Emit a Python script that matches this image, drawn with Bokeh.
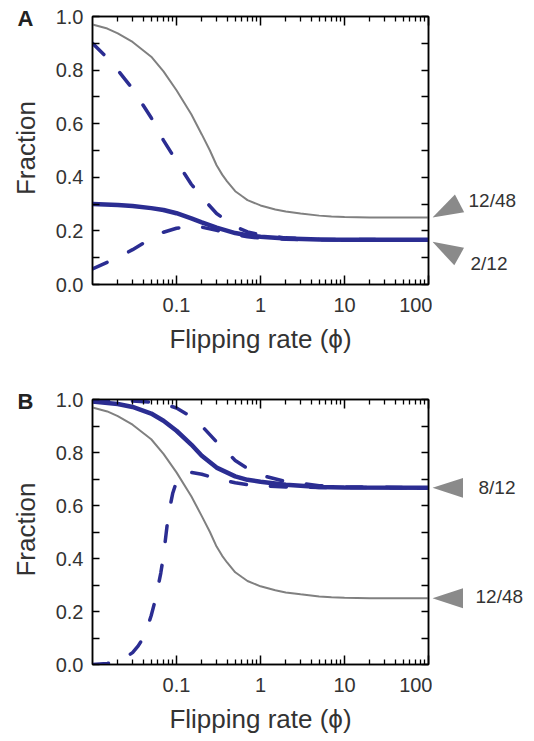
import math
from bokeh.plotting import figure
from bokeh.models import (Range1d, FixedTicker, LogAxis, LinearAxis,
                          PrintfTickFormatter, CustomJSTickFormatter)
from bokeh.core.properties import value
from bokeh.layouts import column, row
from bokeh.embed import file_html
from bokeh.resources import INLINE

# ---------------- data ----------------
grey_x = [0.01, 0.015, 0.02, 0.03, 0.05, 0.07, 0.1, 0.15, 0.2, 0.25, 0.3, 0.35, 0.4, 0.5, 0.6,
          0.7, 1, 1.5, 2, 3, 5, 7, 10, 20, 50, 100]
grey_y = [0.97, 0.955, 0.937, 0.905, 0.85, 0.795, 0.725, 0.635, 0.56, 0.50, 0.445, 0.41, 0.385,
          0.348, 0.33, 0.315, 0.295, 0.28, 0.272, 0.265, 0.257, 0.254, 0.252, 0.25, 0.25, 0.25]

a_solid_x = [0.01, 0.02, 0.03, 0.05, 0.07, 0.1, 0.15, 0.2, 0.3, 0.5, 0.7, 1, 2, 5, 10, 100]
a_solid_y = [0.30, 0.297, 0.293, 0.285, 0.278, 0.266, 0.247, 0.232, 0.212, 0.192, 0.184, 0.178,
             0.172, 0.168, 0.167, 0.167]

a_dash_hi_x = [0.01, 0.015, 0.02, 0.03, 0.05, 0.07, 0.1, 0.15, 0.2, 0.3, 0.5, 0.7, 1, 2, 5, 10, 100]
a_dash_hi_y = [0.90, 0.845, 0.80, 0.73, 0.622, 0.538, 0.46, 0.374, 0.326, 0.265, 0.216, 0.196,
               0.185, 0.174, 0.169, 0.168, 0.167]

a_dash_lo_x = [0.01, 0.015, 0.02, 0.03, 0.05, 0.07, 0.1, 0.15, 0.2, 0.3, 0.5, 0.7, 1, 2, 5, 10, 100]
a_dash_lo_y = [0.058, 0.083, 0.10, 0.13, 0.172, 0.195, 0.21, 0.217, 0.214, 0.202, 0.187, 0.178,
               0.173, 0.169, 0.167, 0.167, 0.167]

b_solid_x = [0.01, 0.02, 0.03, 0.05, 0.07, 0.1, 0.15, 0.2, 0.3, 0.5, 0.7, 1, 2, 5, 10, 100]
b_solid_y = [0.992, 0.983, 0.972, 0.947, 0.92, 0.882, 0.83, 0.788, 0.743, 0.71, 0.697, 0.69,
             0.678, 0.67, 0.668, 0.667]

b_dash_hi_x = [0.01, 0.02, 0.03, 0.05, 0.07, 0.1, 0.15, 0.2, 0.3, 0.5, 0.7, 1, 2, 5, 10, 100]
b_dash_hi_y = [0.998, 0.996, 0.994, 0.99, 0.984, 0.968, 0.935, 0.90, 0.84, 0.77, 0.74, 0.715,
               0.69, 0.675, 0.67, 0.667]

b_dash_lo_x = [0.01, 0.015, 0.02, 0.025, 0.03, 0.035, 0.04, 0.045, 0.05, 0.055, 0.06, 0.065,
               0.07, 0.075, 0.08, 0.09, 0.1, 0.12, 0.15, 0.2, 0.3, 0.5, 0.7, 1, 2, 5, 100]
b_dash_lo_y = [0.0, 0.004, 0.012, 0.028, 0.045, 0.07, 0.10, 0.14, 0.185, 0.235, 0.29, 0.345,
               0.41, 0.49, 0.565, 0.645, 0.69, 0.718, 0.725, 0.718, 0.702, 0.686, 0.679, 0.675,
               0.67, 0.668, 0.667]

a_mark_values = [12 / 48, 2 / 12]
a_mark_texts = ["12/48", "2/12"]
b_mark_values = [8 / 12, 12 / 48]
b_mark_texts = ["8/12", "12/48"]

x_major = [0.1, 1, 10, 100]
x_minor = [m * 10.0 ** e for e in range(-2, 2) for m in range(2, 10)]
y_major = [0.0, 0.2, 0.4, 0.6, 0.8, 1.0]
y_minor = [0.1, 0.3, 0.5, 0.7, 0.9]

# ---------------- style / layout ----------------
BLUE = "#2b2d92"
GREY = "#808080"
ARROW = "#8a8a8a"
TXT = "#333333"
FONT = "Liberation Sans"
LEFT_W = 50      # strip holding the panel letter and the y title
MAIN_W = 382     # main plot (y tick labels + frame + right axis)
RIGHT_W = 102    # strip holding the arrow heads and their labels
FRAME_W = 336
MAIN_BORDER_L = MAIN_W - FRAME_W - 4
MAIN_BORDER_R = 4


def side_fig(width, height, x0, x1, top, bottom):
    f = figure(width=width, height=height,
               x_range=Range1d(x0, x1), y_range=Range1d(0, 1),
               output_backend="svg", toolbar_location=None,
               x_axis_location=None, y_axis_location=None,
               min_border_left=0, min_border_right=0,
               min_border_top=top, min_border_bottom=bottom)
    f.outline_line_color = None
    f.grid.visible = False
    return f


def make_panel(height, top, bottom, frame_h, letter, series, marks):
    p = figure(width=MAIN_W, height=height, x_axis_type="log",
               x_range=Range1d(0.01, 100), y_range=Range1d(0, 1),
               output_backend="svg", toolbar_location=None,
               min_border_left=MAIN_BORDER_L, min_border_right=MAIN_BORDER_R,
               min_border_top=top, min_border_bottom=bottom)
    p.grid.visible = False
    p.outline_line_color = "black"
    p.outline_line_width = 1.5
    p.add_layout(LogAxis(), "above")
    p.add_layout(LinearAxis(), "right")

    for ax in p.xaxis:
        ax.ticker = FixedTicker(ticks=x_major, minor_ticks=x_minor)
        ax.major_tick_in = 9
        ax.major_tick_out = 0
        ax.minor_tick_in = 5
        ax.minor_tick_out = 0
    for ax in p.yaxis:
        ax.ticker = FixedTicker(ticks=y_major, minor_ticks=y_minor)
        ax.major_tick_in = 7
        ax.major_tick_out = 0
        ax.minor_tick_in = 7
        ax.minor_tick_out = 0
    for ax in list(p.xaxis) + list(p.yaxis):
        ax.axis_line_width = 1.5
        ax.major_tick_line_width = 1.5
        ax.minor_tick_line_width = 1.3
        ax.axis_line_color = "black"
        ax.major_tick_line_color = "black"
        ax.minor_tick_line_color = "black"
        ax.major_label_text_font = FONT
        ax.major_label_text_font_size = "20px"
        ax.major_label_text_color = TXT
        ax.axis_label_text_font = FONT
        ax.axis_label_text_font_size = "26px"
        ax.axis_label_text_font_style = "normal"
        ax.axis_label_text_color = TXT

    for ax in (p.above[0], p.right[0]):
        ax.formatter = CustomJSTickFormatter(code="return ''")
        ax.major_label_text_font_size = "0px"
        ax.major_label_standoff = 0

    bx = p.below[0]
    bx.formatter = CustomJSTickFormatter(code="return tick.toString()")
    bx.major_label_standoff = 13
    bx.axis_label = "Flipping rate (\u03d5)"
    bx.axis_label_standoff = 9

    ly = p.left[0]
    ly.formatter = PrintfTickFormatter(format="%.1f")
    ly.major_label_standoff = 9

    gx, gy = series["grey"]
    p.line(gx, gy, line_color=GREY, line_width=2)
    for key in ("hi", "lo"):
        xs, ys = series[key]
        p.line(xs, ys, line_color=BLUE, line_width=3.5, line_dash="16 24",
               line_cap="round")
    sx, sy = series["solid"]
    p.line(sx, sy, line_color=BLUE, line_width=4.5)

    # left strip: y-axis title (glyph) and the panel letter (as the label of a bare top axis)
    lf = side_fig(LEFT_W, height, 0, LEFT_W, top, bottom)
    lf.text(x=[25], y=[0.509], text=["Fraction"], angle=math.pi / 2,
            text_font=value(FONT), text_font_size=value("26px"), text_color=TXT,
            text_align=value("center"), text_baseline=value("middle"))
    la = LinearAxis(axis_label=letter, axis_label_text_font=FONT,
                    axis_label_text_font_size="22px", axis_label_text_font_style="bold",
                    axis_label_text_color="#222222", axis_label_standoff=-14,
                    axis_line_color=None, major_tick_line_color=None,
                    minor_tick_line_color=None, major_label_text_font_size="0px",
                    major_label_standoff=0, major_tick_in=0, major_tick_out=0,
                    minor_tick_in=0, minor_tick_out=0,
                    formatter=CustomJSTickFormatter(code="return ''"))
    lf.add_layout(la, "above")

    # right strip: arrow heads and their labels (x in pixels from the frame's right edge)
    rf = side_fig(RIGHT_W, height, MAIN_BORDER_R, MAIN_BORDER_R + RIGHT_W, top, bottom)
    txs, tys, lxs, lys, ltxt = [], [], [], [], []
    for val, txt, ang, tip_dy, lab_dx, lab_dy in marks:
        a = math.radians(ang)
        ux, uy = math.cos(a), math.sin(a)
        nx, ny = -uy, ux
        L, B = 30.5, 20
        tip = (4, tip_dy)
        bc = (tip[0] + L * ux, tip[1] + L * uy)
        pts = [tip, (bc[0] + B / 2 * nx, bc[1] + B / 2 * ny),
               (bc[0] - B / 2 * nx, bc[1] - B / 2 * ny)]
        txs.append([q[0] for q in pts])
        tys.append([val + q[1] / frame_h for q in pts])
        lxs.append(lab_dx)
        lys.append(val + lab_dy / frame_h)
        ltxt.append(txt)
    rf.patches(txs, tys, fill_color=ARROW, line_color=None)
    rf.text(x=lxs, y=lys, text=ltxt, text_font=value(FONT), text_font_size=value("19px"),
            text_color=TXT, text_align=value("left"), text_baseline=value("middle"))

    return row(lf, p, rf, spacing=0)


# panel A: figure rows 0..385, frame 16..284 ; panel B: rows 385..741, frame 397..664
pA = make_panel(385, 16, 101, 268, "A",
                {"grey": (grey_x, grey_y), "solid": (a_solid_x, a_solid_y),
                 "hi": (a_dash_hi_x, a_dash_hi_y), "lo": (a_dash_lo_x, a_dash_lo_y)},
                [(a_mark_values[0], a_mark_texts[0], 27.5, 0, 40, 17),
                 (a_mark_values[1], a_mark_texts[1], -29.0, -2, 42, -23.5)])

pB = make_panel(356, 12, 77, 267, "B",
                {"grey": (grey_x, grey_y), "solid": (b_solid_x, b_solid_y),
                 "hi": (b_dash_hi_x, b_dash_hi_y), "lo": (b_dash_lo_x, b_dash_lo_y)},
                [(b_mark_values[0], b_mark_texts[0], 0.0, 0, 50, 0),
                 (b_mark_values[1], b_mark_texts[1], 0.0, 0, 47, 2)])

layout = column(pA, pB, spacing=0)
open("out.html", "w").write(file_html(layout, INLINE))
